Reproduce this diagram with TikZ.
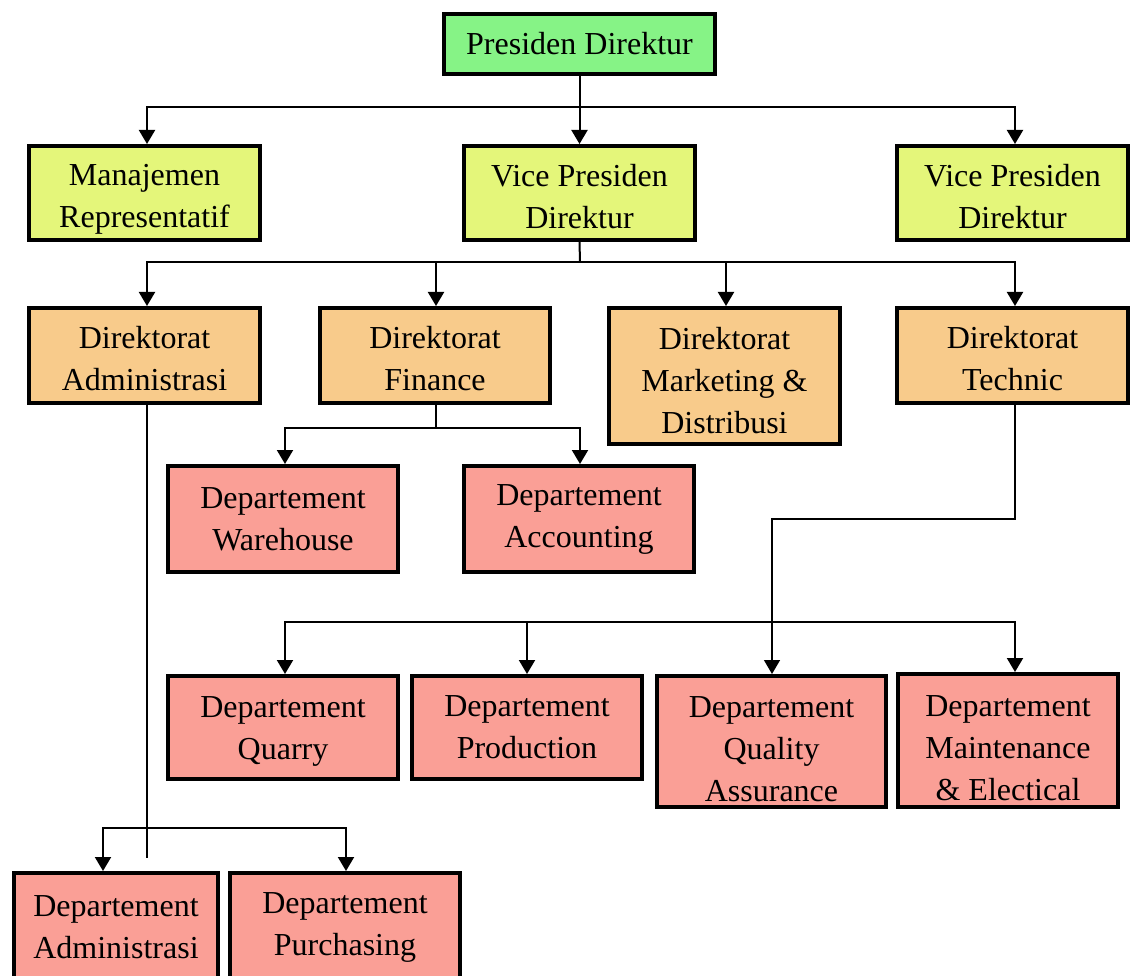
\documentclass[tikz,border=0pt]{standalone}
\usepackage{fontspec}
\setmainfont{Liberation Serif}
\usetikzlibrary{arrows.meta}
\definecolor{cgreen}{HTML}{86F386}
\definecolor{cyellow}{HTML}{E4F67A}
\definecolor{corange}{HTML}{F8CB8B}
\definecolor{cpink}{HTML}{FA9F96}
\newcommand\dnshift[1]{\rule{0pt}{\dimexpr 22.5pt+2\dimexpr #1\relax\relax}}
\begin{document}
\begin{tikzpicture}[x=1pt,y=-1pt,
  box/.style={draw=black, line width=4pt, align=center, inner sep=0pt,
    font=\fontsize{32}{42}\selectfont},
  conn/.style={draw=black, line width=2pt},
  arr/.style={conn, -{Triangle[width=16pt,length=14pt]}},
  thinconn/.style={draw=black, line width=1.5pt, -{Triangle[width=16pt,length=14pt]}}]
\useasboundingbox (0,0) rectangle (1130,976);
% level 0
\node[box, fill=cgreen, minimum width=271pt, minimum height=60pt] (pres) at (579.5,44) {Presiden Direktur};
% level 1
\node[box, fill=cyellow, minimum width=231pt, minimum height=94pt] (mr) at (144.5,193) {\dnshift{6pt}Manajemen\\Representatif};
\node[box, fill=cyellow, minimum width=231pt, minimum height=94pt] (vp1) at (579.5,193) {\dnshift{3pt}Vice Presiden\\Direktur};
\node[box, fill=cyellow, minimum width=231pt, minimum height=94pt] (vp2) at (1012.5,193) {\dnshift{3pt}Vice Presiden\\Direktur};
% level 2
\node[box, fill=corange, minimum width=231pt, minimum height=95pt] (da) at (144.5,355.5) {\dnshift{3pt}Direktorat\\Administrasi};
\node[box, fill=corange, minimum width=230pt, minimum height=95pt] (df) at (435,355.5) {\dnshift{3pt}Direktorat\\Finance};
\node[box, fill=corange, minimum width=231pt, minimum height=136pt] (dm) at (724.5,376) {\dnshift{4pt}Direktorat\\Marketing \&\\Distribusi};
\node[box, fill=corange, minimum width=231pt, minimum height=95pt] (dt) at (1012.5,355.5) {\dnshift{3pt}Direktorat\\Technic};
% finance departments
\node[box, fill=cpink, minimum width=230pt, minimum height=106pt] (dw) at (283,519) {Departement\\Warehouse};
\node[box, fill=cpink, minimum width=230pt, minimum height=106pt] (dac) at (579,519) {Departement\\Accounting};
% technic departments
\node[box, fill=cpink, minimum width=230pt, minimum height=103pt] (dq) at (283,727.5) {\dnshift{3pt}Departement\\Quarry};
\node[box, fill=cpink, minimum width=230pt, minimum height=103pt] (dp) at (527,727.5) {Departement\\Production};
\node[box, fill=cpink, minimum width=229pt, minimum height=131pt] (dqa) at (771.5,741.5) {\dnshift{7pt}Departement\\Quality\\Assurance};
\node[box, fill=cpink, minimum width=220pt, minimum height=133pt] (dmt) at (1008,740.5) {\dnshift{7pt}Departement\\Maintenance\\\& Electical};
% administrasi departments
\node[box, fill=cpink, minimum width=204pt, minimum height=108pt] (dad) at (116,927) {Departement\\Administrasi};
\node[box, fill=cpink, minimum width=230pt, minimum height=108pt] (dpu) at (345,927) {Departement\\Purchasing};
% connectors level 0 -> 1
\draw[arr] (pres.south) -- (vp1.north);
\draw[arr] (pres.south) -- ++(0,31) -| ([xshift=2.5pt]mr.north);
\draw[arr] (pres.south) -- ++(0,31) -| ([xshift=2.5pt]vp2.north);
% connectors level 1 -> 2
\coordinate (b2) at (580,262);
\draw[conn] (vp1.south) -- (b2);
\draw[arr] (b2) -| ([xshift=2.5pt]da.north);
\draw[arr] (b2) -| ([xshift=1pt]df.north);
\draw[arr] (b2) -| ([xshift=1.5pt]dm.north);
\draw[arr] (b2) -| ([xshift=2.5pt]dt.north);
% finance
\coordinate (b3) at (436,428);
\draw[conn] ([xshift=1pt]df.south) -- (b3);
\draw[arr] (b3) -| ([xshift=2pt]dw.north);
\draw[arr] (b3) -| ([xshift=1pt]dac.north);
% technic
\draw[thinconn] ([xshift=2.5pt]dt.south) -- ++(0,114) -| ([xshift=0.5pt]dqa.north);
\coordinate (b5) at (772,622);
\draw[arr] (b5) -| ([xshift=2pt]dq.north);
\draw[arr] (b5) -| (dp.north);
\draw[arr] (b5) -| ([xshift=7pt]dmt.north);
% administrasi
\coordinate (b4) at (147,828);
\draw[conn] ([xshift=2.5pt]da.south) -- ++(0,453);
\draw[arr] (b4) -| ([xshift=-13pt]dad.north);
\draw[arr] (b4) -| ([xshift=1pt]dpu.north);
\end{tikzpicture}
\end{document}
